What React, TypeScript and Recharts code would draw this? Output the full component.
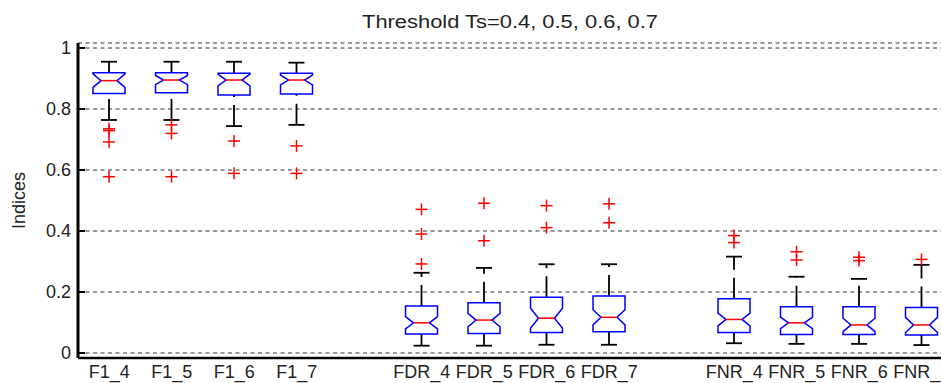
import { ComposedChart, Bar, XAxis, YAxis, CartesianGrid } from "recharts";

// Notched box plots of F1 / FDR / FNR for the four thresholds (empty slots separate the groups).
const categories = [
  "F1_4", "F1_5", "F1_6", "F1_7", "",
  "FDR_4", "FDR_5", "FDR_6", "FDR_7", "",
  "FNR_4", "FNR_5", "FNR_6", "FNR_7",
];

const whiskerLow = [0.764, 0.764, 0.744, 0.748, null, 0.024, 0.024, 0.027, 0.027, null, 0.032, 0.03, 0.03, 0.026];
const quartile1 = [0.851, 0.853, 0.846, 0.849, null, 0.062, 0.064, 0.067, 0.07, null, 0.067, 0.061, 0.061, 0.059];
const medians = [0.893, 0.895, 0.895, 0.895, null, 0.099, 0.108, 0.114, 0.117, null, 0.11, 0.099, 0.092, 0.092];
const quartile3 = [0.919, 0.919, 0.917, 0.917, null, 0.154, 0.165, 0.183, 0.187, null, 0.178, 0.152, 0.152, 0.149];
const whiskerHigh = [0.955, 0.955, 0.955, 0.952, null, 0.263, 0.279, 0.291, 0.291, null, 0.316, 0.25, 0.243, 0.289];
// half height of the notch around the median
const notchHalf = [0.022, 0.015, 0.019, 0.016, null, 0.02, 0.022, 0.033, 0.025, null, 0.021, 0.019, 0.022, 0.025];
const outliers: number[][] = [
  [0.735, 0.729, 0.692, 0.578],
  [0.748, 0.72, 0.578],
  [0.695, 0.589],
  [0.679, 0.589],
  [],
  [0.292, 0.39, 0.471],
  [0.368, 0.491],
  [0.411, 0.483],
  [0.427, 0.489],
  [],
  [0.362, 0.385],
  [0.305, 0.332],
  [0.303, 0.314],
  [0.307],
];

const yTicks = [0, 0.2, 0.4, 0.6, 0.8, 1];

const data = categories.map((name, i) => ({
  name,
  range: whiskerLow[i] == null ? null : [whiskerLow[i], whiskerHigh[i]],
  lo: whiskerLow[i],
  q1: quartile1[i],
  med: medians[i],
  q3: quartile3[i],
  hi: whiskerHigh[i],
  notch: notchHalf[i],
  out: outliers[i],
}));

const FONT = "'Liberation Sans', Arial, sans-serif";

function NotchedBox(props: any) {
  const { x, y, width, height, payload } = props;
  if (!payload || payload.lo == null || !height) return null;
  const { lo, q1, med, q3, hi, notch, out } = payload;
  // the range bar spans lo..hi, so map any value through the same linear scale
  const py = (v: number) => y + ((hi - v) / (hi - lo)) * height;
  const cx = x + width / 2;
  const left = x;
  const right = x + width;
  const inset = width * 0.25;
  const cap = width / 4;
  const d = [
    `M${left},${py(q3)}`,
    `L${right},${py(q3)}`,
    `L${right},${py(med + notch)}`,
    `L${right - inset},${py(med)}`,
    `L${right},${py(med - notch)}`,
    `L${right},${py(q1)}`,
    `L${left},${py(q1)}`,
    `L${left},${py(med - notch)}`,
    `L${left + inset},${py(med)}`,
    `L${left},${py(med + notch)}`,
    "Z",
  ].join(" ");
  return (
    <g>
      <line x1={cx} y1={py(q3)} x2={cx} y2={py(hi)} stroke="#000" strokeWidth={1.8} strokeDasharray="21 8" />
      <line x1={cx} y1={py(lo)} x2={cx} y2={py(q1)} stroke="#000" strokeWidth={1.8} strokeDasharray="21 8" />
      <line x1={cx - cap} y1={py(hi)} x2={cx + cap} y2={py(hi)} stroke="#000" strokeWidth={1.8} />
      <line x1={cx - cap} y1={py(lo)} x2={cx + cap} y2={py(lo)} stroke="#000" strokeWidth={1.8} />
      <path d={d} fill="none" stroke="#0000ff" strokeWidth={1.5} />
      <line x1={left + inset} y1={py(med)} x2={right - inset} y2={py(med)} stroke="#ff0000" strokeWidth={1.5} />
      {out.map((v: number, k: number) => (
        <g key={k} stroke="#ff0000" strokeWidth={1.5}>
          <line x1={cx - 6} y1={py(v)} x2={cx + 6} y2={py(v)} />
          <line x1={cx} y1={py(v) - 6} x2={cx} y2={py(v) + 6} />
        </g>
      ))}
    </g>
  );
}

export default function App() {
  return (
    <div
      style={{
        position: "absolute",
        left: 0,
        top: 0,
        width: 941,
        height: 383,
        overflow: "hidden",
        background: "#fff",
      }}
    >
      <ComposedChart
        width={968}
        height={383}
        data={data}
        margin={{ top: 43, right: 15, bottom: 0, left: 0 }}
        style={{ fontFamily: FONT }}
      >
        <CartesianGrid vertical={false} stroke="#333" strokeDasharray="4 3.5" />
        <XAxis
          dataKey="name"
          allowDuplicatedCategory
          height={25}
          tickLine={false}
          tickSize={0}
          tickMargin={7}
          axisLine={{ stroke: "#000", strokeWidth: 2.5 }}
          tick={{ fontSize: 18, fill: "#222", fontFamily: FONT }}
          interval={0}
        />
        <XAxis
          xAxisId="top"
          orientation="top"
          dataKey="name"
          allowDuplicatedCategory
          height={0}
          tick={false}
          tickLine={false}
          axisLine={{ stroke: "#000", strokeWidth: 2.5 }}
        />
        <YAxis
          width={78}
          type="number"
          domain={[-0.0164, 1.0164]}
          ticks={yTicks}
          interval={0}
          tickSize={-7}
          tickMargin={14}
          tickLine={{ stroke: "#000", strokeWidth: 2 }}
          axisLine={{ stroke: "#000", strokeWidth: 3 }}
          tick={{ fontSize: 18, fill: "#222", fontFamily: FONT }}
          label={{
            content: (p: any) => {
              const vb = p.viewBox || { x: 0, y: 43, width: 78, height: 315 };
              const cx = vb.x + 19;
              const cy = vb.y + vb.height / 2;
              return (
                <text
                  x={cx}
                  y={cy}
                  transform={`rotate(-90, ${cx}, ${cy})`}
                  textAnchor="middle"
                  dominantBaseline="central"
                  fontSize={18}
                  fill="#222"
                  fontFamily={FONT}
                >
                  Indices
                </text>
              );
            },
          }}
        />
        <Bar dataKey="range" barSize={32} shape={NotchedBox} isAnimationActive={false} />
      </ComposedChart>
      {/* chart title */}
      <svg width={941} height={40} style={{ position: "absolute", left: 0, top: 0 }}>
        <text
          x={510}
          y={28}
          textAnchor="middle"
          fontSize={18}
          fill="#222"
          fontFamily={FONT}
          textLength={296}
          lengthAdjust="spacingAndGlyphs"
        >
          Threshold Ts=0.4, 0.5, 0.6, 0.7
        </text>
      </svg>
    </div>
  );
}
